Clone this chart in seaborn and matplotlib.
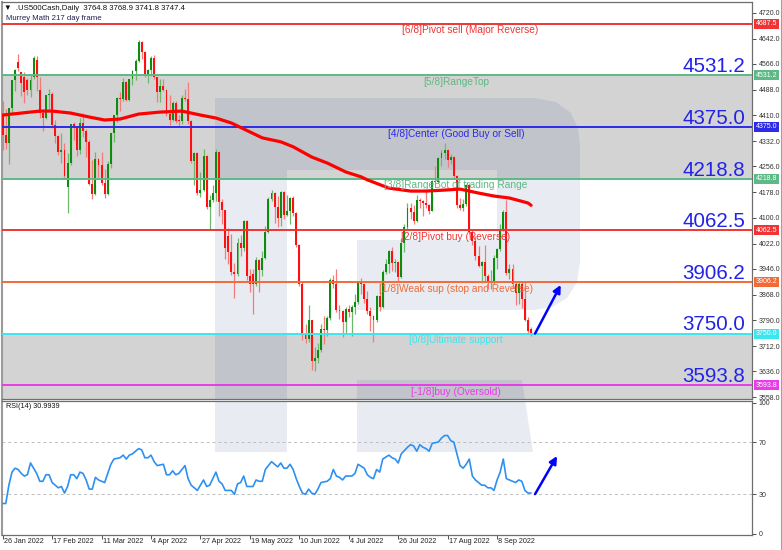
import matplotlib
matplotlib.use("Agg")
import matplotlib.pyplot as plt
import matplotlib.transforms as mtransforms
from matplotlib.lines import Line2D
from matplotlib.path import Path
from matplotlib.patches import PathPatch
import numpy as np
import pandas as pd
import seaborn as sns

# ---------------- data ----------------
opens = [4408,4350,4327,4432,4516,4570,4540,4526,4517,4487,
         4526,4578,4487,4417,4402,4471,4475,4380,4349,4300,
         4305,4194,4266,4385,4374,4306,4387,4363,4329,4201,
         4171,4278,4260,4204,4173,4262,4358,4412,4463,4461,
         4512,4456,4520,4543,4576,4632,4602,4530,4546,4583,
         4525,4481,4500,4488,4413,4397,4447,4393,4392,4462,
         4459,4394,4272,4296,4175,4184,4288,4132,4155,4175,
         4300,4147,4123,4045,3998,3935,3930,4024,4008,4089,
         3924,3930,3901,3974,3941,3979,4058,4158,4175,4132,
         4101,4177,4109,4121,4161,4116,4018,3901,3750,3735,
         3790,3667,3675,3700,3765,3760,3796,3912,3900,3822,
         3819,3785,3825,3815,3831,3845,3903,3899,3854,3819,
         3802,3790,3863,3831,3937,3960,3999,3962,3967,3921,
         4024,4072,4130,4119,4091,4155,4152,4145,4140,4122,
         4210,4207,4280,4297,4305,4274,4284,4228,4138,4129,
         4141,4199,4058,4031,3986,3955,3967,3924,3905,3908,
         3980,4006,4067,4118,3933,3946,3901,3873,3900,3856,
         3790,3765]
highs = [4453,4428,4432,4516,4550,4595,4542,4540,4522,4531,
         4590,4590,4527,4427,4473,4490,4480,4395,4352,4356,
         4326,4295,4385,4389,4375,4401,4416,4370,4335,4276,
         4300,4280,4298,4247,4272,4358,4412,4465,4481,4523,
         4514,4520,4546,4580,4637,4635,4604,4549,4590,4594,
         4526,4521,4521,4490,4471,4453,4453,4411,4471,4489,
         4512,4396,4299,4300,4240,4308,4290,4169,4200,4308,
         4302,4158,4125,4069,4050,3964,4039,4047,4095,4092,
         3945,3944,3981,3976,3999,4075,4162,4185,4178,4166,
         4180,4180,4168,4164,4165,4119,4020,3905,3778,3837,
         3792,3708,3720,3780,3802,3802,3918,3928,3945,3837,
         3820,3829,3835,3835,3870,3910,3918,3900,3880,3829,
         3806,3868,3903,3942,3975,4003,4013,3976,3970,4040,
         4082,4145,4144,4140,4170,4161,4155,4187,4141,4215,
         4257,4284,4305,4325,4307,4292,4286,4230,4159,4156,
         4203,4204,4062,4045,4016,3970,4018,3930,3943,3987,
         4010,4080,4125,4154,3961,3959,3905,3910,3905,3907,
         3800,3769]
lows = [4305,4309,4264,4414,4484,4545,4470,4448,4471,4465,
        4520,4484,4401,4364,4400,4429,4373,4327,4290,4267,
        4221,4114,4260,4335,4286,4293,4345,4285,4199,4157,
        4170,4223,4200,4161,4170,4251,4330,4391,4424,4455,
        4455,4452,4501,4518,4570,4582,4525,4508,4530,4519,
        4450,4451,4485,4409,4381,4392,4388,4375,4385,4455,
        4385,4267,4200,4170,4163,4180,4128,4063,4148,4151,
        4107,4081,3976,3959,3928,3859,3925,3984,4000,3912,
        3877,3810,3895,3876,3925,3975,4055,4150,4083,4073,
        4074,4097,4105,4080,4107,4012,3895,3730,3720,3723,
        3640,3636,3660,3695,3717,3743,3790,3889,3815,3795,
        3739,3752,3800,3742,3810,3840,3870,3843,3808,3759,
        3723,3785,3818,3828,3929,3933,3940,3936,3908,3918,
        3998,4065,4097,4080,4088,4129,4107,4129,4112,4120,
        4201,4205,4256,4277,4253,4262,4219,4131,4124,4120,
        4137,4052,4017,3973,3950,3903,3906,3885,3886,3900,
        3945,4000,4060,3928,3914,3889,3837,3838,3827,3789,
        3749,3742]
closes = [4350,4327,4432,4516,4547,4552,4508,4480,4487,4517,
          4584,4526,4417,4402,4471,4475,4380,4349,4300,4305,
          4226,4266,4385,4374,4306,4387,4363,4329,4201,4171,
          4278,4260,4204,4173,4262,4358,4412,4463,4461,4512,
          4456,4520,4543,4576,4632,4602,4530,4546,4583,4525,
          4481,4500,4488,4413,4397,4447,4393,4392,4462,4459,
          4394,4272,4296,4175,4184,4288,4132,4155,4175,4300,
          4147,4123,4010,3998,3935,3930,4024,4008,4089,3924,
          3901,3901,3974,3941,3979,4058,4158,4175,4132,4101,
          4177,4109,4121,4161,4116,4018,3901,3750,3735,3790,
          3667,3675,3700,3765,3760,3796,3912,3900,3822,3819,
          3785,3825,3815,3831,3845,3903,3899,3854,3819,3802,
          3790,3863,3831,3937,3960,3999,3962,3967,3921,4024,
          4072,4130,4119,4091,4155,4152,4145,4140,4122,4210,
          4207,4280,4297,4305,4274,4284,4228,4138,4129,4141,
          4199,4058,4031,3986,3955,3967,3924,3905,3908,3980,
          4006,4067,4118,3933,3946,3901,3873,3900,3856,3790,
          3758,3747]

ma_bars = [0, 6, 12, 16, 22, 28, 33, 38, 44, 51, 58, 64, 69, 74, 78, 82, 84, 90,
           94, 100, 105, 111, 116, 118, 125, 132, 137, 143, 148, 154, 159, 164, 170, 171]
ma_vals = [4411, 4417, 4423, 4423, 4417, 4405, 4396, 4399, 4414, 4420, 4423, 4411, 4402,
           4387, 4369, 4351, 4342, 4330, 4315, 4284, 4266, 4239, 4224, 4215, 4190, 4181,
           4181, 4184, 4187, 4175, 4166, 4160, 4145, 4138]

rsi_bars = [0,1,2,3,4,5,6,7,8,9,
            11,12,13,14,15,16,17,18,19,20,21,22,23,24,25,26,27,28,29,30,31,32,33,
            35,36,38,39,40,41,42,
            44,45,46,47,48,49,50,
            52,53,54,55,56,57,
            59,60,61,63,65,66,67,
            69,70,71,72,
            74,75,76,77,78,79,
            81,82,83,84,85,87,
            89,90,91,92,93,94,95,96,97,98,99,100,101,102,103,
            105,106,107,108,109,110,111,
            113,114,115,
            117,118,119,120,121,122,123,
            125,126,127,128,129,
            131,132,133,134,135,136,137,138,139,
            141,142,143,144,145,146,147,148,149,150,151,152,153,154,155,156,157,158,159,160,161,162,163,164,
            166,167,168,169,170,171]
rsi_vals = [23,23,37,47,50,49,46,44,45,54,
            46,40,40,45,45,39,37,35,36,31,36,45,45,42,47,46,41,34,34,43,41,40,39,
            53,57,58,60,57,60,61,
            65,64,58,58,60,55,52,
            53,45,45,48,45,46,
            52,42,37,33,41,36,37,
            47,40,38,33,
            33,30,38,39,44,36,
            36,41,40,40,49,55,
            51,54,50,50,53,49,42,36,31,30,34,31,30,34,39,
            40,42,49,44,43,41,44,
            44,46,53,
            50,45,43,42,49,47,57,
            60,58,57,54,61,
            66,68,67,63,68,66,65,63,69,
            70,73,75,75,71,70,61,52,50,53,57,44,41,39,37,37,35,35,33,41,47,57,42,41,
            39,41,40,33,31,31]

level_values = [4687.5, 4531.2, 4375.0, 4218.8, 4062.5, 3906.2, 3750.0, 3593.8]
level_names = ["[6/8]Pivot sell (Major Reverse)", "[5/8]RangeTop",
               "[4/8]Center (Good Buy or Sell)", "[3/8]RangeBot of trading Range",
               "[2/8]Pivot buy (Reverse)", "[1/8]Weak sup (stop and Reverse)",
               "[0/8]Ultimate support", "[-1/8]buy (Oversold)"]
level_colors = ["#F03434", "#5DB985", "#2B2BE8", "#5DB985",
                "#F03434", "#F26A36", "#3CE6EE", "#E83CE8"]

price_ticks = [4720.0, 4642.0, 4566.0, 4488.0, 4410.0, 4332.0, 4256.0, 4178.0,
               4100.0, 4022.0, 3946.0, 3868.0, 3790.0, 3712.0, 3636.0, 3558.0]
rsi_ticks = [100, 70, 30, 0]

date_bars = [0, 16, 32, 48, 64, 80, 96, 112, 128, 144, 160]
date_labels = ["26 Jan 2022", "17 Feb 2022", "11 Mar 2022", "4 Apr 2022", "27 Apr 2022",
               "19 May 2022", "10 Jun 2022", "4 Jul 2022", "26 Jul 2022", "17 Aug 2022",
               "8 Sep 2022"]

header_text = "\u25BC  .US500Cash,Daily  3764.8 3768.9 3741.8 3747.4"
subheader_text = "Murrey Math 217 day frame"
rsi_text = "RSI(14) 30.9939"

price_arrow = [(172.3, 3750.0), (180.6, 3897.0)]
rsi_arrow = [(172.3, 30.2), (179.4, 59.3)]

# ---------------- figure ----------------
sns.set_theme(style="white")
plt.rcParams['font.family'] = ['Liberation Sans', 'DejaVu Sans']

W, H = 782, 550
fig = plt.figure(figsize=(W / 100, H / 100), dpi=100)
fig.patch.set_facecolor("white")
px_to_fig = mtransforms.Affine2D().scale(1 / W, -1 / H).translate(0, 1) + fig.transFigure


def px_axes(l, t, r, b):
    return fig.add_axes([l / W, 1 - b / H, (r - l) / W, (b - t) / H])


ax = px_axes(2, 2, 752, 399)
ax2 = px_axes(2, 401, 752, 535)

xlim = (-0.227, 242.5)
for a in (ax, ax2):
    a.set_facecolor("white")
    a.set_xlim(*xlim)
    for sp in a.spines.values():
        sp.set_color("#6E6E6E")
        sp.set_linewidth(0.9)
        sp.set_visible(True)
    a.spines['left'].set_color("#9A9A9A")
    a.spines['left'].set_linewidth(1.5)

ax.set_ylim(3552, 4753)
ax2.set_ylim(-1.1, 101.4)

# faint watermark logo (background decoration)
logo_outline = [(215, 98), (535, 98), (556, 102), (571, 113), (578, 128), (580, 145),
                (580, 262), (577, 282), (567, 298), (552, 307), (535, 310),
                (357, 310), (357, 240), (497, 240), (497, 170), (287, 170),
                (287, 452), (215, 452), (215, 98)]
logo_leg = [(357, 380), (522, 380), (533, 452), (357, 452), (357, 380)]
for a in (ax, ax2):
    for shape in (logo_outline, logo_leg):
        codes = [Path.MOVETO] + [Path.LINETO] * (len(shape) - 2) + [Path.CLOSEPOLY]
        patch = PathPatch(Path(shape, codes), transform=px_to_fig,
                          facecolor=(0.27, 0.39, 0.59, 0.12), edgecolor="none", zorder=0.5)
        a.add_patch(patch)

# shaded Murrey bands
ax.axhspan(level_values[3], level_values[1], color="#D3D3D3", zorder=0, lw=0)
ax.axhspan(3500, level_values[6], color="#D3D3D3", zorder=0, lw=0)

# candles
df = pd.DataFrame({"o": opens, "h": highs, "l": lows, "c": closes})
df["bar"] = np.arange(len(df))
up = df["c"] >= df["o"]
body_col = np.where(up, "#0E8C0E", "#FF1010")
wick_col = np.where(up, "#6DB86D", "#F57A7A")
ax.vlines(df["bar"], df["l"], df["h"], colors=wick_col, lw=0.9, zorder=3)
body_bottom = np.minimum(df["o"], df["c"])
body_h = np.maximum((df["c"] - df["o"]).abs(), 3)
ax.bar(df["bar"], body_h, bottom=body_bottom, width=0.62, color=body_col,
       linewidth=0, zorder=4)

# Murrey lines and labels
blend = mtransforms.blended_transform_factory(ax.transAxes, ax.transData)
for i, (v, name, col) in enumerate(zip(level_values, level_names, level_colors)):
    ax.axhline(v, color=col, lw=1.4, zorder=5)
    fx = 0.624 if i == 0 else 0.605
    ax.annotate(name, xy=(fx, v), xycoords=blend, xytext=(0, -4.8),
                textcoords="offset points", ha="center", va="center",
                fontsize=7.3, color=col, zorder=8)
    if i > 0:
        ax.annotate(f"{v:.1f}", xy=(0.9907, v), xycoords=blend, xytext=(0, 2.2),
                    textcoords="offset points", ha="right", va="baseline",
                    fontsize=14.8, color="#2323E8", zorder=8)
    ax.annotate(f"{v:.1f}", xy=(1.0, v), xycoords=blend, xytext=(10.4, 0),
                textcoords="offset points", ha="center", va="center",
                fontsize=5.0, color="white", annotation_clip=False, zorder=9,
                bbox=dict(boxstyle="square,pad=0.22", fc=col, ec="none"))

# moving average
sns.lineplot(x=ma_bars, y=ma_vals, ax=ax, color="#FF0000", linewidth=2.3,
             sort=False, errorbar=None, zorder=6)

# price arrow
ax.annotate("", xy=price_arrow[1], xytext=price_arrow[0],
            arrowprops=dict(arrowstyle="-|>", color="#0000FF", lw=1.8,
                            mutation_scale=11, shrinkA=0, shrinkB=0), zorder=10)

# axes ticks (main)
ax.set_xticks([])
ax.yaxis.tick_right()
ax.set_yticks(price_ticks)
ax.set_yticklabels([f"{t:.1f}" for t in price_ticks])
ax.tick_params(axis="y", length=3, width=0.6, labelsize=5.0, pad=2,
               colors="#333333", right=True, direction="out")
ax.set_xlabel("")
ax.set_ylabel("")

# header texts
ax.text(2 / 750, 1 - 6 / 397, header_text, transform=ax.transAxes, fontsize=5.6,
        va="center", ha="left", color="#111111", zorder=11)
ax.text(4 / 750, 1 - 17 / 397, subheader_text, transform=ax.transAxes, fontsize=5.6,
        va="center", ha="left", color="#202050", zorder=11)

# RSI panel
ax2.axhline(70, color="#BDBDBD", lw=0.7, ls=(0, (3, 3)), zorder=1)
ax2.axhline(30, color="#BDBDBD", lw=0.7, ls=(0, (3, 3)), zorder=1)
sns.lineplot(x=rsi_bars, y=rsi_vals, ax=ax2, color="#2E90F0", linewidth=1.2,
             sort=False, errorbar=None, zorder=3)
ax2.annotate("", xy=rsi_arrow[1], xytext=rsi_arrow[0],
             arrowprops=dict(arrowstyle="-|>", color="#0000FF", lw=1.8,
                             mutation_scale=11, shrinkA=0, shrinkB=0), zorder=10)
ax2.yaxis.tick_right()
ax2.set_yticks(rsi_ticks)
ax2.set_yticklabels([str(t) for t in rsi_ticks])
ax2.tick_params(axis="y", length=3, width=0.6, labelsize=5.0, pad=2,
                colors="#333333", right=True, direction="out")
ax2.set_xticks(date_bars)
ax2.set_xticklabels([""] * len(date_bars))
ax2.tick_params(axis="x", length=3, width=0.6, bottom=True, direction="out",
                colors="#333333")
xblend = mtransforms.blended_transform_factory(ax2.transData, ax2.transAxes)
for b, lab in zip(date_bars, date_labels):
    ax2.text(b + 0.35, -0.025, lab, transform=xblend, ha="left", va="top",
             fontsize=5.2, color="#222222")
ax2.text(4 / 750, 1 - 6 / 134, rsi_text, transform=ax2.transAxes, fontsize=5.2,
         va="center", ha="left", color="#111111")
ax2.set_xlabel("")
ax2.set_ylabel("")

fig.add_artist(Line2D([781 / W, 781 / W], [0, 1], color="#A0A0A0", lw=0.8))

fig.savefig("out.png", dpi=100)
